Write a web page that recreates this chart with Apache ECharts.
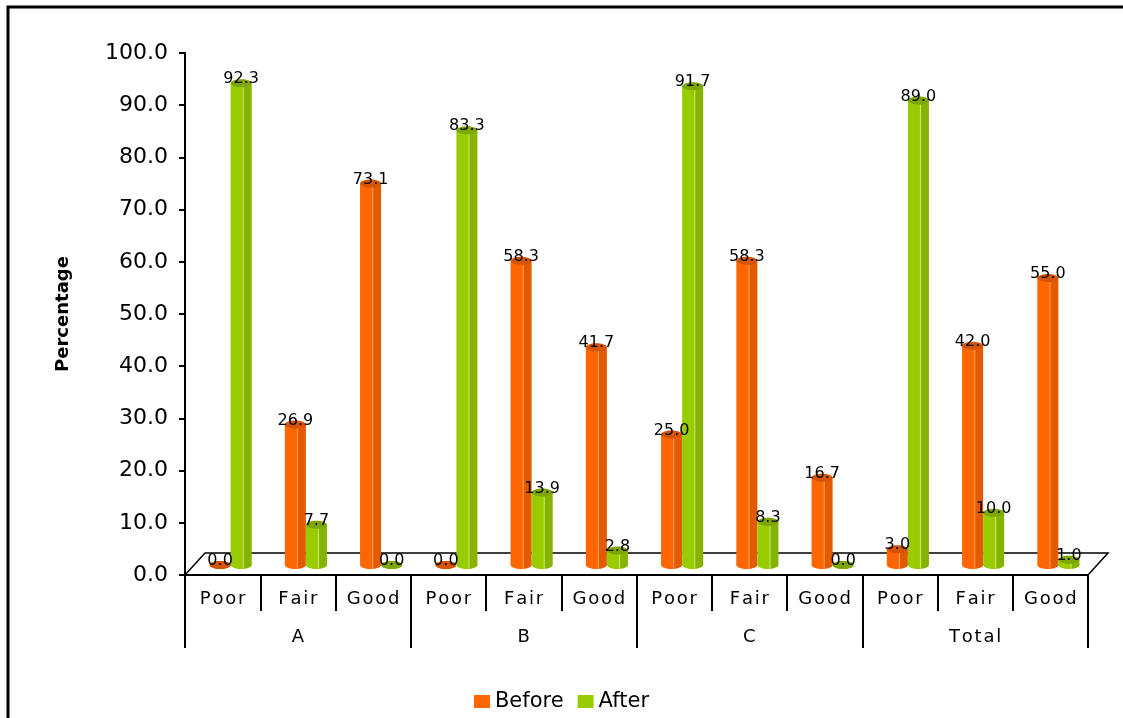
<!DOCTYPE html>
<html>
<head>
<meta charset="utf-8">
<title>Before / After</title>
<script src="https://cdn.jsdelivr.net/npm/echarts@6/dist/echarts.min.js"></script>
<style>
  html, body { margin: 0; padding: 0; background: #fff; }
  #chart { width: 1123px; height: 718px; }
</style>
</head>
<body>
<div id="chart"></div>
<script>
// Ratings per group
const ratings = ['Poor', 'Fair', 'Good'];
const groups = ['A', 'B', 'C', 'Total'];
const categories = [
  'Poor', 'Fair', 'Good',
  'Poor', 'Fair', 'Good',
  'Poor', 'Fair', 'Good',
  'Poor', 'Fair', 'Good'
];
// Percentages, in category order (A, B, C, Total × Poor, Fair, Good)
const beforeValues = [0.0, 26.9, 73.1, 0.0, 58.3, 41.7, 25.0, 58.3, 16.7, 3.0, 42.0, 55.0];
const afterValues = [92.3, 7.7, 0.0, 83.3, 13.9, 2.8, 91.7, 8.3, 0.0, 89.0, 10.0, 1.0];
const yTicks = [0, 10, 20, 30, 40, 50, 60, 70, 80, 90, 100];

const FONT = '"DejaVu Sans", Verdana, sans-serif';
// widen category text with hair spaces between letters
const spaced = s => s.split('').join('\u200A');
// pseudo-3D depth shift of the bars and the floor
const DX = 8, DY = -10;
const FLOOR_DX = 20, FLOOR_DY = -22;

const palette = {
  before: { main: '#FF6600', dark: '#E35B00', light: '#FFA060', top: '#D45400' },
  after: { main: '#99CC00', dark: '#86B300', light: '#C8E870', top: '#7DA600' }
};

function cylinder(pal, side) {
  return function (params, api) {
    const cat = api.value(0);
    const v = api.value(1);
    const base = api.coord([cat, 0]);
    const tip = api.coord([cat, v]);
    const bw = api.size([1, 0])[0];
    const w = bw * 0.28;
    const cx = base[0] + DX;
    const x0 = side < 0 ? cx - w : cx;
    const mid = x0 + w / 2;
    const yb = base[1] + DY;
    const yt = tip[1] + DY;
    const ry = 4;
    const grad = {
      type: 'linear', x: 0, y: 0, x2: 1, y2: 0,
      colorStops: [
        { offset: 0, color: pal.main },
        { offset: 0.55, color: pal.main },
        { offset: 0.6, color: pal.light },
        { offset: 0.65, color: pal.dark },
        { offset: 1, color: pal.dark }
      ]
    };
    return {
      type: 'group',
      children: [
        { type: 'ellipse', shape: { cx: mid, cy: yb, rx: w / 2, ry: ry }, style: { fill: grad } },
        { type: 'rect', shape: { x: x0, y: yt, width: w, height: Math.max(0, yb - yt) }, style: { fill: grad } },
        { type: 'ellipse', shape: { cx: mid, cy: yt, rx: w / 2, ry: ry }, style: { fill: pal.top } },
        {
          type: 'text', z2: 100,
          style: {
            x: mid, y: yt - 4, text: v.toFixed(1),
            align: 'center', verticalAlign: 'middle',
            font: '16px ' + FONT, fill: '#000'
          }
        }
      ]
    };
  };
}

// floor of the plot: back edge and the two side edges
function floor(params, api) {
  const n = categories.length;
  const bw = api.size([1, 0])[0];
  const l = api.coord([0, 0]);
  const r = api.coord([n - 1, 0]);
  const xl = l[0] - bw / 2, xr = r[0] + bw / 2, y = l[1];
  return {
    type: 'polyline',
    shape: { points: [[xl, y], [xl + FLOOR_DX, y + FLOOR_DY], [xr + FLOOR_DX, y + FLOOR_DY], [xr, y]] },
    style: { stroke: '#000', lineWidth: 1.5, fill: null }
  };
}

const chart = echarts.init(document.getElementById('chart'));
chart.setOption({
  backgroundColor: '#fff',
  animation: false,
  textStyle: { fontFamily: FONT },
  grid: { left: 185, right: 35, top: 53, bottom: 143 },
  legend: {
    data: ['Before', 'After'],
    top: 686, left: 'center',
    itemWidth: 16, itemHeight: 13, itemGap: 14,
    icon: 'rect',
    textStyle: { fontSize: 21, color: '#000', fontFamily: FONT }
  },
  xAxis: [
    {
      type: 'category', data: categories, position: 'bottom',
      axisLine: { show: true, lineStyle: { color: '#000', width: 2 } },
      axisTick: { show: true, interval: 0, length: 36, lineStyle: { color: '#000', width: 2 } },
      axisLabel: { interval: 0, margin: 15, fontSize: 18, color: '#000', fontFamily: FONT, formatter: spaced }
    },
    {
      type: 'category', data: groups, position: 'bottom',
      axisLine: { show: false },
      axisTick: { show: true, interval: 0, length: 73, lineStyle: { color: '#000', width: 2 } },
      axisLabel: { interval: 0, margin: 53, fontSize: 18, color: '#000', fontFamily: FONT, formatter: spaced }
    }
  ],
  yAxis: {
    type: 'value', min: yTicks[0], max: yTicks[yTicks.length - 1], interval: 10,
    name: 'Percentage', nameLocation: 'middle', nameGap: 113, nameRotate: 90,
    nameTextStyle: { fontSize: 18, fontWeight: 'bold', color: '#000', fontFamily: FONT },
    axisLine: { show: true, lineStyle: { color: '#000', width: 2 } },
    axisTick: { show: true, length: 6, lineStyle: { color: '#000', width: 2 } },
    axisLabel: { fontSize: 22, color: '#000', margin: 17, formatter: v => v.toFixed(1), fontFamily: FONT },
    splitLine: { show: false }
  },
  graphic: [
    { type: 'polyline', shape: { points: [[8, 718], [8, 7], [1123, 7]] }, style: { stroke: '#000', lineWidth: 3, fill: null } }
  ],
  series: [
    {
      type: 'custom', name: 'floor', renderItem: floor, data: [[0, 0]], z: 1, silent: true
    },
    {
      type: 'custom', name: 'Before', renderItem: cylinder(palette.before, -1),
      itemStyle: { color: palette.before.main },
      encode: { x: 0, y: 1 }, z: 3,
      data: beforeValues.map((v, i) => [i, v])
    },
    {
      type: 'custom', name: 'After', renderItem: cylinder(palette.after, 1),
      itemStyle: { color: palette.after.main },
      encode: { x: 0, y: 1 }, z: 3,
      data: afterValues.map((v, i) => [i, v])
    }
  ]
});
</script>
</body>
</html>
